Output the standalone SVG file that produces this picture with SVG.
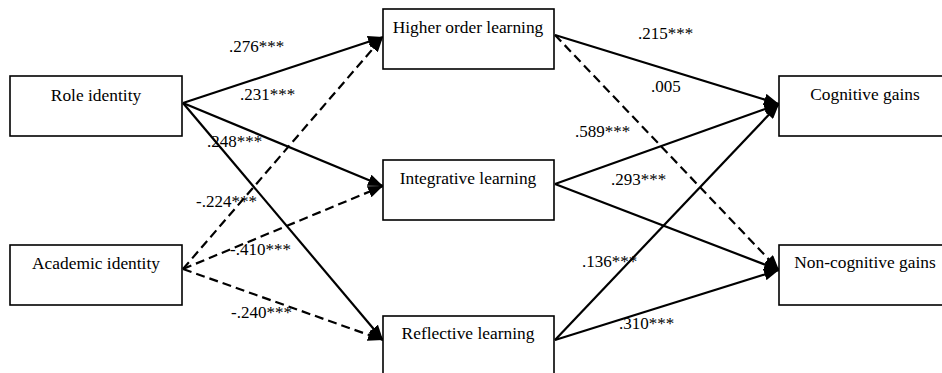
<svg xmlns="http://www.w3.org/2000/svg" width="942" height="373" viewBox="0 0 942 373">
<defs>
<style>
.box{fill:#fff;stroke:#000;stroke-width:1.6}
.lbl{font-family:'Liberation Serif','Times New Roman',Times,serif;font-size:17px;fill:#000}
.nt{font-family:'Liberation Serif','Times New Roman',Times,serif;font-size:17.4px;fill:#000;text-anchor:middle}
.e{fill:none;stroke:#000;stroke-width:2.2}
.d{stroke-dasharray:9,5}
</style>
<marker id="ah" viewBox="0 0 15 12" refX="15" refY="6" markerWidth="15" markerHeight="12" markerUnits="userSpaceOnUse" orient="auto">
<path d="M0,0 L15,6 L0,12 Z" fill="#000"/>
</marker>
</defs>
<rect width="942" height="373" fill="#fff"/>
<g id="connectors">
<line class="e" x1="183" y1="103" x2="383" y2="37" marker-end="url(#ah)"/>
<line class="e" x1="183" y1="103" x2="383" y2="186" marker-end="url(#ah)"/>
<line class="e" x1="183" y1="103" x2="383" y2="340" marker-end="url(#ah)"/>
<line class="e d" x1="183" y1="269" x2="383" y2="37" marker-end="url(#ah)"/>
<line class="e d" x1="183" y1="269" x2="383" y2="186" marker-end="url(#ah)"/>
<line class="e d" x1="183" y1="269" x2="383" y2="340" marker-end="url(#ah)"/>
<line class="e" x1="555" y1="35" x2="779" y2="104" marker-end="url(#ah)"/>
<line class="e d" x1="555" y1="35" x2="779" y2="270" marker-end="url(#ah)"/>
<line class="e" x1="555" y1="184" x2="779" y2="104" marker-end="url(#ah)"/>
<line class="e" x1="555" y1="184" x2="779" y2="270" marker-end="url(#ah)"/>
<line class="e" x1="555" y1="340" x2="779" y2="104" marker-end="url(#ah)"/>
<line class="e" x1="555" y1="340" x2="779" y2="270" marker-end="url(#ah)"/>
<text class="lbl" x="229" y="52">.276***</text>
<text class="lbl" x="240" y="100">.231***</text>
<text class="lbl" x="207" y="147">.248***</text>
<text class="lbl" x="196" y="207">-.224***</text>
<text class="lbl" x="230" y="255">-.410***</text>
<text class="lbl" x="231" y="318">-.240***</text>
<text class="lbl" x="638" y="39">.215***</text>
<text class="lbl" x="651" y="92">.005</text>
<text class="lbl" x="575" y="137">.589***</text>
<text class="lbl" x="611" y="185">.293***</text>
<text class="lbl" x="582" y="267">.136***</text>
<text class="lbl" x="619" y="329">.310***</text>
</g>
<g id="role"><rect class="box" x="10" y="76" width="172" height="60"/><text class="nt" x="96" y="101">Role identity</text></g>
<g id="academic"><rect class="box" x="10" y="245" width="172" height="60"/><text class="nt" x="96" y="269">Academic identity</text></g>
<g id="higher"><rect class="box" x="383" y="9" width="171" height="60"/><text class="nt" x="468" y="33">Higher order learning</text></g>
<g id="integrative"><rect class="box" x="383" y="160" width="171" height="60"/><text class="nt" x="468" y="184">Integrative learning</text></g>
<g id="reflective"><rect class="box" x="383" y="316" width="171" height="60"/><text class="nt" x="468" y="339">Reflective learning</text></g>
<g id="cognitive"><rect class="box" x="779" y="76" width="172" height="60"/><text class="nt" x="865" y="100">Cognitive gains</text></g>
<g id="noncognitive"><rect class="box" x="779" y="245" width="172" height="60"/><text class="nt" x="865" y="268">Non-cognitive gains</text></g>
</svg>
